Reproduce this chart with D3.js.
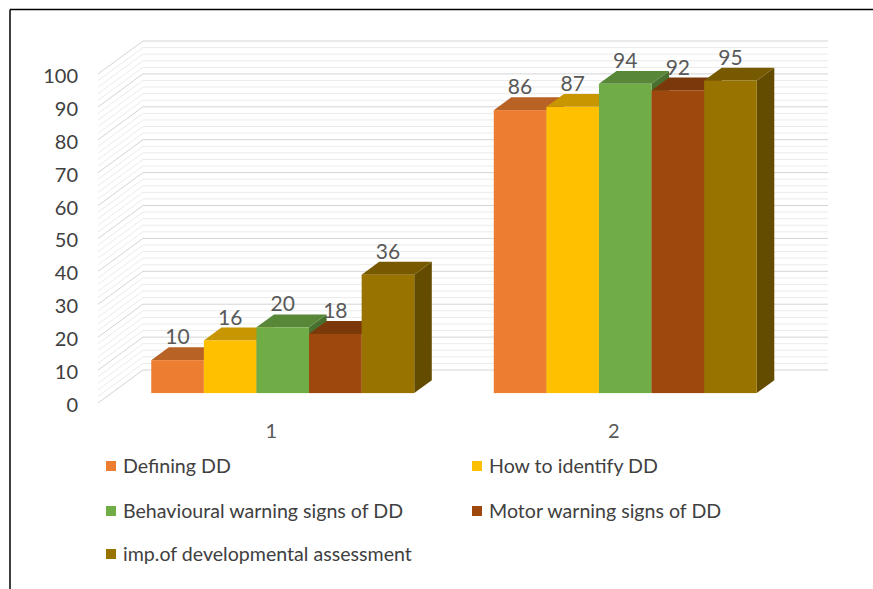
<!DOCTYPE html>
<html>
<head>
<meta charset="utf-8">
<script src="https://cdn.jsdelivr.net/npm/d3@7"></script>
<style>
  html, body { margin: 0; padding: 0; background: #fff; }
  svg { display: block; }
  text { font-family: Lato, "Open Sans", sans-serif; }
</style>
</head>
<body>
<svg id="chart" width="873" height="589"></svg>
<script>
// ---- data ----
const categories = ["1", "2"];
const seriesNames = [
  "Defining DD",
  "How to identify DD",
  "Behavioural warning signs of DD",
  "Motor warning signs of DD",
  "imp.of developmental assessment"
];
const seriesColors = ["#ED7D31", "#FFC000", "#70AD47", "#9E480E", "#997300"];
const valuesCat1 = [10, 16, 20, 18, 36];
const valuesCat2 = [86, 87, 94, 92, 95];
const yTickValues = [0, 10, 20, 30, 40, 50, 60, 70, 80, 90, 100];

const valuesByCategory = { "1": valuesCat1, "2": valuesCat2 };

// ---- layout ----
const W = 873, H = 589;
const svg = d3.select("#chart");

// front plane of the 3D box, plus oblique depth offset
const plotLeft = 98, plotRight = 783;
const DX = 45, DY = 33;           // screen shift from front (z=0) to back wall (z=1)
const barZ0 = 0.30, barZ1 = 0.69; // depth extent of each bar

const y = d3.scaleLinear().domain([0, 100]).range([403, 74]);
const xCat = d3.scaleBand().domain(categories).range([plotLeft, plotRight]).padding(0);
const xSer = d3.scaleBand().domain(seriesNames).range([0, xCat.bandwidth()])
  .paddingInner(0).paddingOuter(0.756);

const proj = (x, v, z) => [x + z * DX, y(v) - z * DY];
const poly = pts => "M" + pts.map(p => p.join(",")).join("L") + "Z";

// ---- outer frame (top and left rules) ----
svg.append("line").attr("x1", 10).attr("y1", 9.5).attr("x2", W).attr("y2", 9.5)
  .attr("stroke", "#000").attr("stroke-width", 1.5);
svg.append("line").attr("x1", 10).attr("y1", 9.5).attr("x2", 10).attr("y2", H)
  .attr("stroke", "#000").attr("stroke-width", 1.5);

// ---- walls: back-wall and side-wall gridlines ----
const grid = svg.append("g").attr("class", "grid");
const gridVals = d3.range(0, 101, 2);
gridVals.forEach(v => {
  const major = v % 10 === 0;
  const col = major ? "#D4D4D4" : "#EBEBEB";
  const a = proj(plotLeft, v, 0), b = proj(plotLeft, v, 1), c = proj(plotRight, v, 1);
  grid.append("path")
    .attr("d", `M${a[0]},${a[1]}L${b[0]},${b[1]}L${c[0]},${c[1]}`)
    .attr("fill", "none").attr("stroke", col).attr("stroke-width", 1);
});

// ---- bars (drawn left to right so nearer neighbours overlap correctly) ----
const shade = (c, k) => {
  const r = d3.rgb(c);
  return d3.rgb(r.r * k, r.g * k, r.b * k).formatHex();
};
const bars = svg.append("g").attr("class", "bars");
const labels = [];
categories.forEach(cat => {
  valuesByCategory[cat].forEach((v, i) => {
    const name = seriesNames[i];
    const x0 = xCat(cat) + xSer(name);
    const x1 = x0 + xSer.bandwidth();
    const col = seriesColors[i];
    // side face
    bars.append("path")
      .attr("d", poly([proj(x1, 0, barZ0), proj(x1, 0, barZ1), proj(x1, v, barZ1), proj(x1, v, barZ0)]))
      .attr("fill", shade(col, 0.65));
    // top face
    bars.append("path")
      .attr("d", poly([proj(x0, v, barZ0), proj(x0, v, barZ1), proj(x1, v, barZ1), proj(x1, v, barZ0)]))
      .attr("fill", shade(col, 0.78));
    // front face
    const f0 = proj(x0, v, barZ0), f1 = proj(x1, 0, barZ0);
    bars.append("rect")
      .attr("x", f0[0]).attr("y", f0[1])
      .attr("width", f1[0] - f0[0]).attr("height", f1[1] - f0[1])
      .attr("fill", col);
    labels.push({ v, x: proj((x0 + x1) / 2, v, barZ0)[0], y: proj(x0, v, barZ1)[1] - 3 });
  });
});

// ---- value labels ----
svg.append("g").selectAll("text").data(labels).join("text")
  .attr("x", d => d.x).attr("y", d => d.y)
  .attr("text-anchor", "middle")
  .attr("font-size", 21).attr("fill", "#595959")
  .text(d => d.v);

// ---- value axis ----
const yAxis = svg.append("g").attr("transform", "translate(78,2)")
  .call(d3.axisLeft(y).tickValues(yTickValues).tickSize(0).tickPadding(0));
yAxis.select(".domain").remove();
yAxis.selectAll("text").attr("font-size", 20).attr("fill", "#404040")
  .style("font-family", "Lato, 'Open Sans', sans-serif");

// ---- category axis ----
const xAxis = svg.append("g").attr("transform", "translate(2,424)")
  .call(d3.axisBottom(xCat).tickSize(0).tickPadding(0));
xAxis.select(".domain").remove();
xAxis.selectAll("text").attr("font-size", 20).attr("fill", "#595959")
  .style("font-family", "Lato, 'Open Sans', sans-serif");

// ---- legend ----
const legendCols = [106, 472];
const legendRows = [473, 518, 561];
const legend = svg.append("g").attr("class", "legend");
seriesNames.forEach((name, i) => {
  const cx = legendCols[i % 2], by = legendRows[Math.floor(i / 2)];
  const g = legend.append("g");
  g.append("rect").attr("x", cx).attr("y", by - 12).attr("width", 10).attr("height", 10)
    .attr("fill", seriesColors[i]);
  g.append("text").attr("x", cx + 17).attr("y", by)
    .attr("font-size", 19.6).attr("fill", "#404040")
    .text(name);
});
</script>
</body>
</html>
